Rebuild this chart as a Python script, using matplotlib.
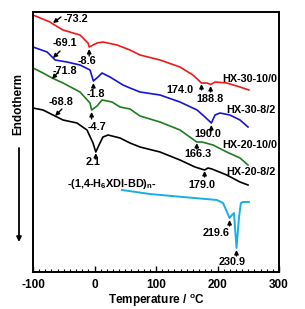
import matplotlib
matplotlib.use("Agg")
import matplotlib.pyplot as plt
from matplotlib.ticker import MultipleLocator

plt.rcParams['font.family'] = ['Liberation Sans', 'DejaVu Sans']
plt.rcParams['font.weight'] = 'bold'
plt.rcParams['mathtext.fontset'] = 'custom'
plt.rcParams['mathtext.rm'] = 'Liberation Sans:bold'
plt.rcParams['mathtext.bf'] = 'Liberation Sans:bold'
plt.rcParams['mathtext.it'] = 'Liberation Sans:bold'

# ---- data (temperature in degC, heat-flow signal with offsets, arbitrary units) ----
red_T = [-100, -72.4, -67.5, -51.2, -23.6, -10.6, -8.6, 4.1, 13.8, 36.6, 57.7, 74, 106.5, 139, 160, 174, 183, 188.8, 196, 215, 236.6, 251]
red_y = [257, 250, 248, 242, 237, 229, 225, 229, 230, 227, 222, 217, 212, 205, 197, 189, 189, 187.5, 190, 189, 185, 182]

blue_T = [-100, -77, -64, -44.7, -23.6, -7.3, -1.8, 5.7, 12.2, 25.2, 46.3, 57.7, 74, 106.5, 139, 166.7, 179.7, 190, 196, 204, 220, 236.6, 249.6]
blue_y = [225, 220, 212, 210, 207, 202, 191, 195, 199, 195, 187, 184, 180, 177, 170, 162, 155, 149, 157, 159, 157, 152, 145]

green_T = [-100, -83.7, -69, -51.2, -23.6, -7.3, -4.7, 4.1, 12.2, 28.5, 41.5, 57.7, 74, 106.5, 139, 166.3, 174.8, 192.7, 215, 236.6, 249.6]
green_y = [204, 199, 194, 189, 180, 169, 162, 166, 172, 170, 165, 163, 156, 150, 142, 130, 130, 127, 120, 114, 107]

black_T = [-100, -83.7, -67.5, -51.2, -28.5, -12.2, -2.4, 2.1, 8.9, 13.8, 22, 41.5, 57.7, 74, 106.5, 139, 163.4, 179, 184.6, 191, 215, 236.6, 249.6]
black_y = [164, 162, 157, 152, 149, 142, 129, 120, 129, 135, 137, 134, 129, 125, 120, 112, 105, 102, 104, 103, 97, 90, 87]

cyan_T = [44.7, 90, 144, 199, 209, 214, 219.6, 223.6, 226.8, 230.9, 235, 238, 241.5, 251]
cyan_y = [82, 78, 75, 72, 69, 62, 54, 57, 59, 24, 55, 69, 70, 70]

x_ticks = [-100, 0, 100, 200, 300]
curve_names = ['HX-30-10/0', 'HX-30-8/2', 'HX-20-10/0', 'HX-20-8/2']

# peak annotations: label, arrow tip (T, y), arrow tail (T, y), text centre (T, y)
peaks = [
    ('-73.2', (-67.5, 249), (-54.5, 255), (-30.4, 253)),
    ('-8.6', (-8.6, 223), (-8.6, 216), (-11.4, 211)),
    ('174.0', (174, 188), (174, 182), (139, 182)),
    ('188.8', (188.8, 186), (188.8, 180), (188, 173)),
    ('-69.1', (-67.5, 214), (-56, 221), (-48, 229)),
    ('-1.8', (-1.8, 189), (-1.8, 184), (1.6, 178)),
    ('190.0', (190, 147), (190, 141), (185, 138)),
    ('-71.8', (-69, 193), (-59, 200), (-48, 201)),
    ('-4.7', (-4.7, 160), (-4.7, 153), (4, 145)),
    ('166.3', (166.3, 129), (166.3, 123), (167.5, 118)),
    ('-68.8', (-64, 156), (-53, 163), (-54.5, 170)),
    ('2.1', (2.1, 119), (2.1, 113), (-2.4, 110)),
    ('179.0', (179, 101), (179, 95), (174, 87)),
    ('219.6', (219.6, 52), (219.6, 46), (198, 39)),
    ('230.9', (230.9, 22), (230.9, 16), (224, 10)),
]

fig = plt.figure(figsize=(3.05, 3.09), dpi=100)
ax = fig.add_axes([33/305, 37/309, 246/305, 260/309])

ax.plot(red_T, red_y, color='#f01818', lw=1.2)
ax.plot(blue_T, blue_y, color='#1414d2', lw=1.2)
ax.plot(green_T, green_y, color='#1e7d1e', lw=1.2)
ax.plot(black_T, black_y, color='black', lw=1.2)
ax.plot(cyan_T, cyan_y, color='#19aee6', lw=1.4)

fs = 7.8
for lab, tip, tail, txt in peaks:
    ax.annotate('', xy=tip, xytext=tail,
                arrowprops=dict(arrowstyle='-|>', color='black', lw=1.0,
                                mutation_scale=6, shrinkA=0, shrinkB=0))
    ax.text(txt[0], txt[1], lab, ha='center', va='center', fontsize=fs, fontweight='bold')

name_pos = [(207, 193), (215, 162), (207, 127), (214, 100)]
for n, (tx, ty) in zip(curve_names, name_pos):
    ax.text(tx, ty, n, ha='left', va='center', fontsize=fs, fontweight='bold')

ax.text(28.5, 88, r'-(1,4-H$_\mathbf{6}$XDI-BD)$_\mathbf{n}$-', ha='center', va='center',
        fontsize=fs, fontweight='bold')

ax.set_xlim(-100, 300)
ax.set_ylim(0, 260)
ax.set_xticks(x_ticks)
ax.set_xticklabels([str(t) for t in x_ticks], fontsize=8.5, fontweight='bold')
ax.xaxis.set_minor_locator(MultipleLocator(10))
ax.tick_params(axis='x', which='major', direction='in', length=4, width=1.0, pad=5)
ax.tick_params(axis='x', which='minor', direction='in', length=2.2, width=0.8)
ax.set_yticks([])
for s in ax.spines.values():
    s.set_linewidth(1.4)

ax.set_xlabel(r'Temperature / $^\mathbf{o}$C', fontsize=8.5, fontweight='bold', labelpad=1)

fig.text(18/305, 1 - 104/309, 'Endotherm', rotation=90, ha='center', va='center',
         fontsize=8.5, fontweight='bold')
fig.add_artist(matplotlib.patches.FancyArrowPatch((19/305, 1 - 148/309), (19/305, 1 - 242/309),
               transform=fig.transFigure, arrowstyle='-|>', mutation_scale=7,
               color='black', lw=1.3, shrinkA=0, shrinkB=0))

fig.savefig('out.png', dpi=100)
